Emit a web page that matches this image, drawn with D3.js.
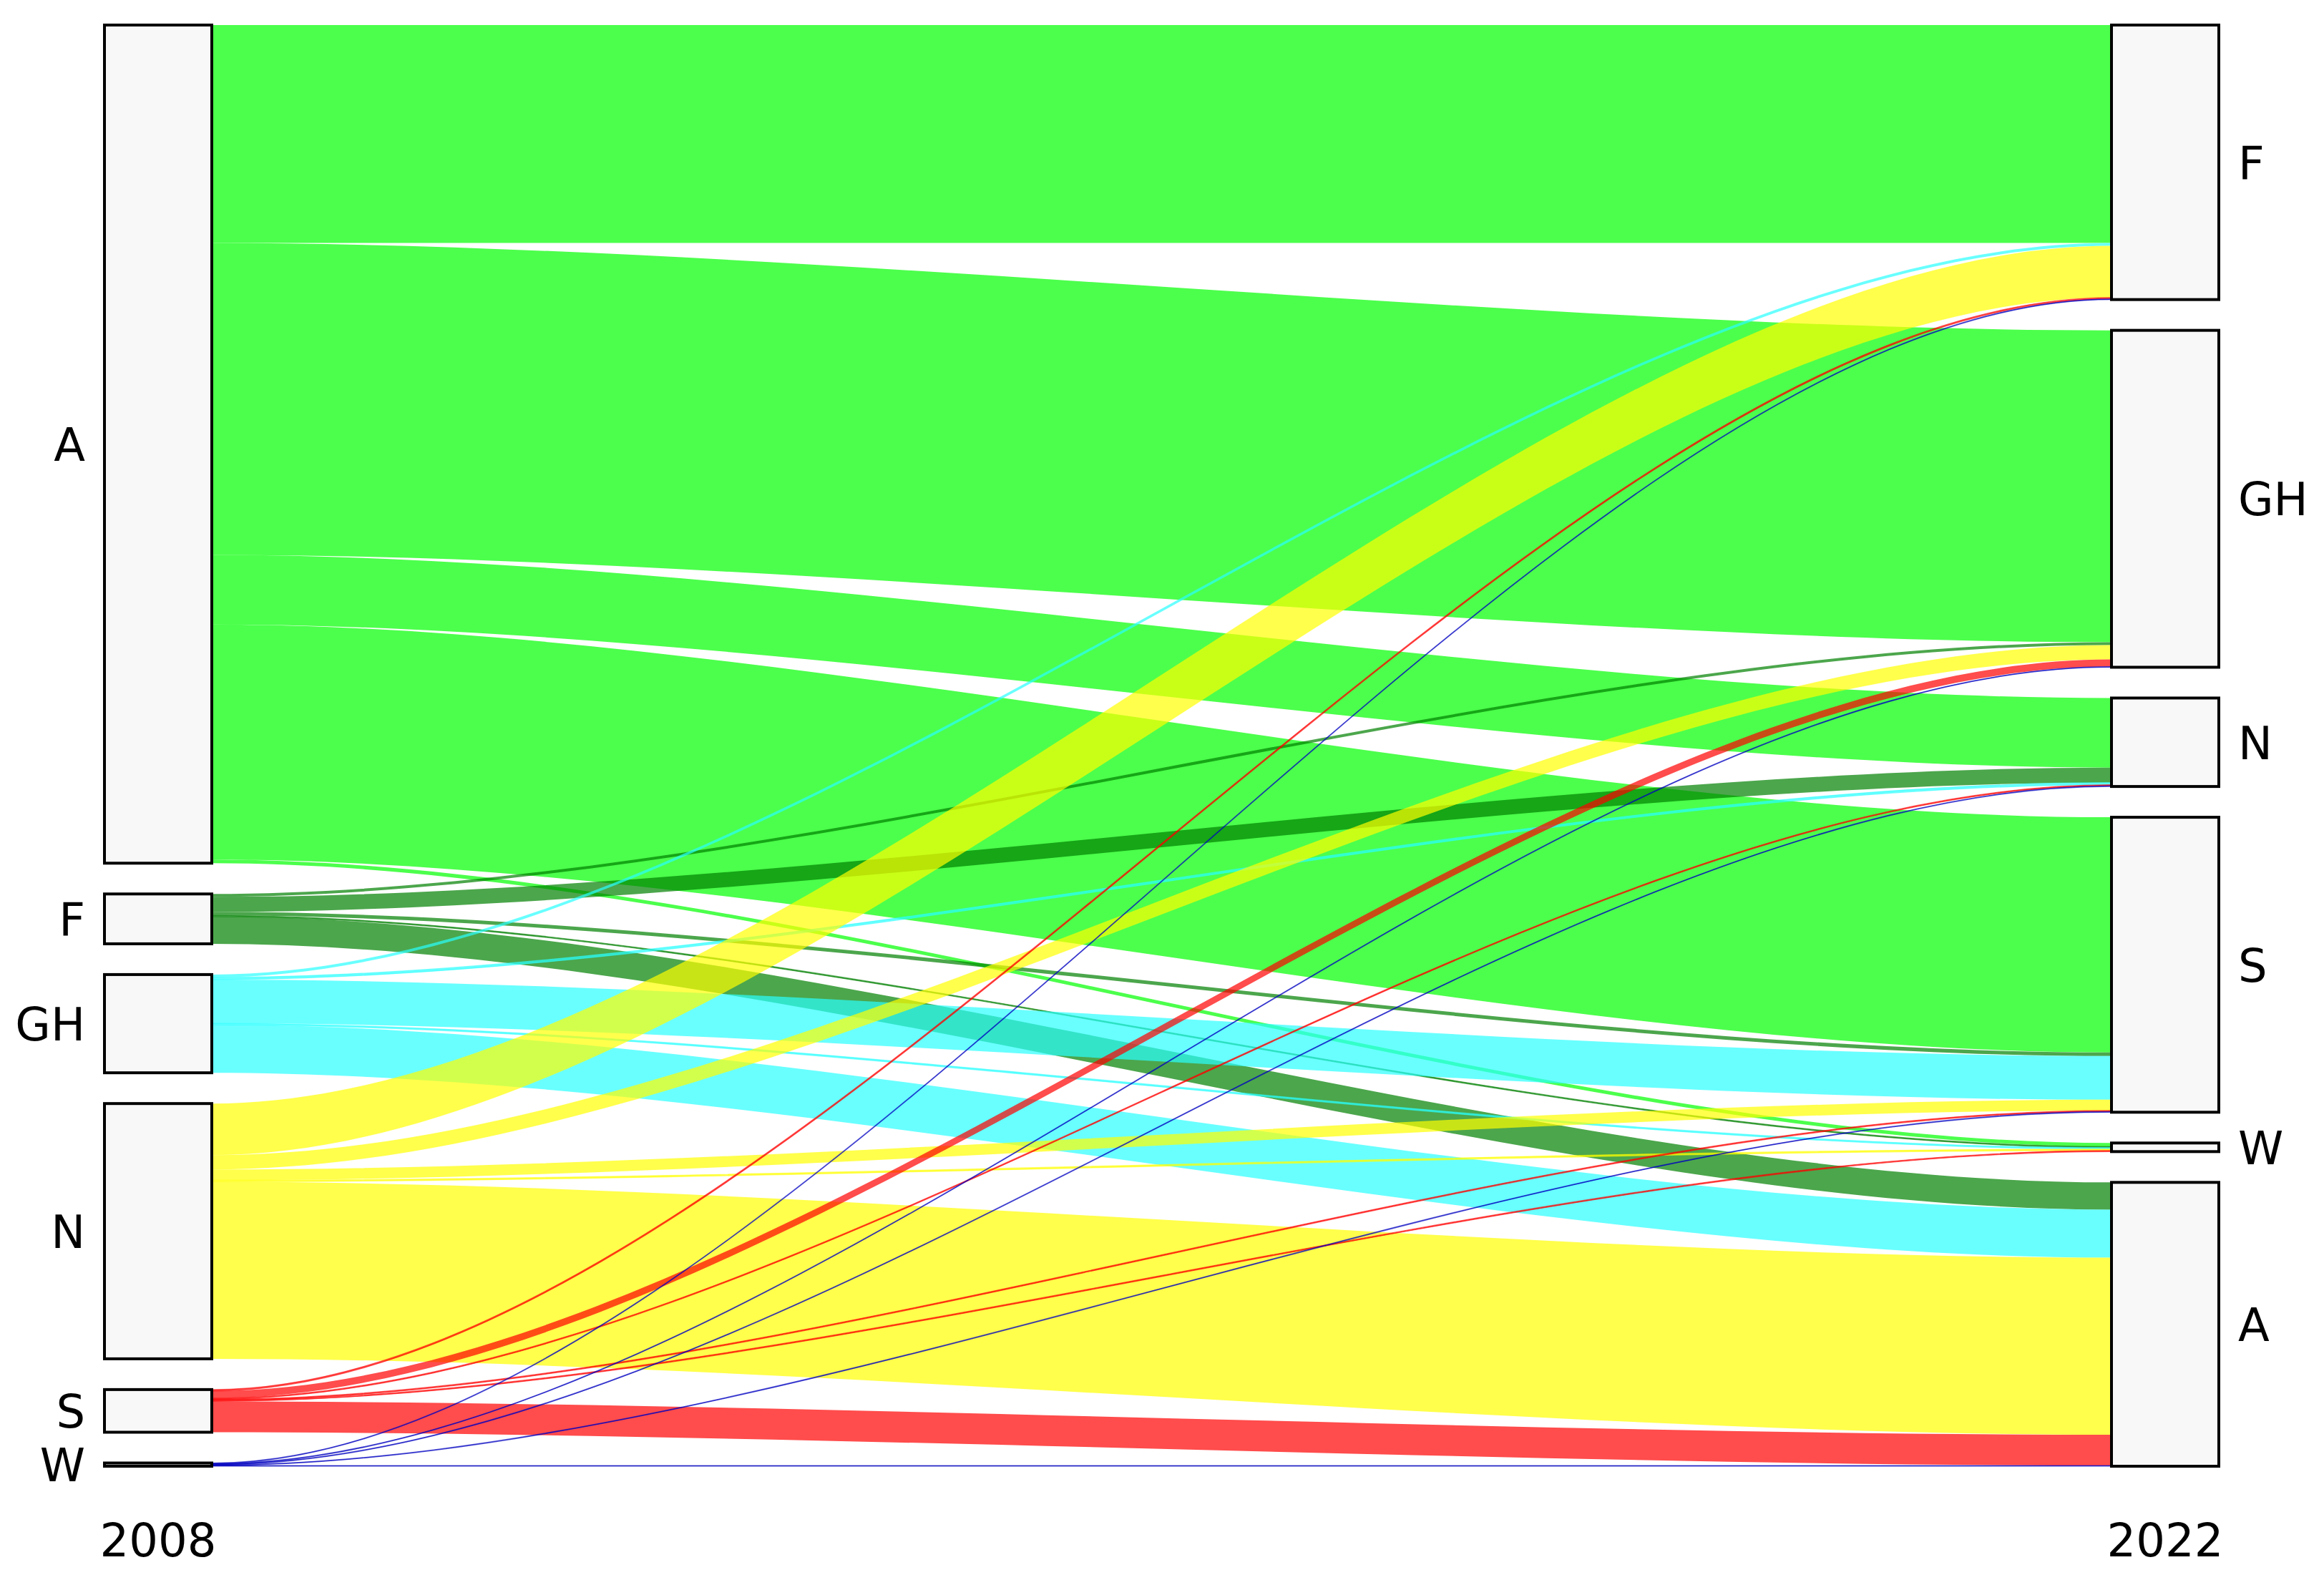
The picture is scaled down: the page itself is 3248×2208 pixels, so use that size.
<!DOCTYPE html>
<html>
<head>
<meta charset="utf-8">
<script src="https://cdn.jsdelivr.net/npm/d3@7"></script>
<style>
  body { margin: 0; background: #fff; }
  svg { display: block; }
</style>
</head>
<body>
<svg id="chart" width="3248" height="2208"></svg>
<script>
const years = ['2008', '2022'];
const leftStrata = ['A', 'F', 'GH', 'N', 'S', 'W'];
const rightStrata = ['F', 'GH', 'N', 'S', 'W', 'A'];
// colour of each class, in leftStrata order
const strataColors = ['#00FF00', '#008000', '#2AFFFF', '#FFFF00', '#FF0000', '#0000C0'];

// one entry per flow: class in 2008 -> class in 2022
const flowFrom = [
  'A', 'A', 'A', 'A', 'A',
  'F', 'F', 'F', 'F', 'F',
  'GH', 'GH', 'GH', 'GH', 'GH',
  'N', 'N', 'N', 'N', 'N',
  'S', 'S', 'S', 'S', 'S', 'S',
  'W', 'W', 'W', 'W', 'W'
];
const flowTo = [
  'F', 'GH', 'N', 'S', 'W',
  'GH', 'N', 'S', 'W', 'A',
  'F', 'N', 'S', 'W', 'A',
  'F', 'GH', 'S', 'W', 'A',
  'F', 'GH', 'N', 'S', 'W', 'A',
  'F', 'GH', 'N', 'S', 'A'
];
const flowValue = [
  304, 435, 97, 328, 5,
  4, 21, 5, 1.5, 38,
  4, 3, 61, 2, 67,
  72, 20, 15, 2, 247,
  2, 10, 1.5, 1.5, 1.5, 43,
  0.9, 0.9, 0.9, 0.9, 0.9
];

const svg = d3.select('#chart');
const plotTop = 35;
const plotBottom = 2049;
const gap = 43;
const boxWidth = 150;
const bend = 0.3;
const fontSize = 64;
const fontFamily = '"DejaVu Sans", "Liberation Sans", Arial, sans-serif';

const x = d3.scalePoint().domain(years).range([221, 3026]);

const flows = flowFrom.map((d, i) => ({ from: d, to: flowTo[i], value: flowValue[i] }));
const total = d3.sum(flowValue);
const y = d3.scaleLinear()
  .domain([0, total])
  .range([0, plotBottom - plotTop - gap * (leftStrata.length - 1)]);

// stack the flows of one side inside its strata, ordered by the other side
const layoutSide = (strata, own, other, otherOrder) => {
  let pos = plotTop;
  let boxes = [];
  strata.forEach((name) => {
    let y0 = pos;
    flows.filter(f => f[own] === name)
      .sort((a, b) => otherOrder.indexOf(a[other]) - otherOrder.indexOf(b[other]))
      .forEach((f) => {
        f[own + 'Y'] = [pos, pos + y(f.value)];
        pos += y(f.value);
      });
    boxes.push({ name: name, y0: y0, y1: pos });
    pos += gap;
  });
  return boxes;
};

const leftBoxes = layoutSide(leftStrata, 'from', 'to', rightStrata);
const rightBoxes = layoutSide(rightStrata, 'to', 'from', leftStrata);

const x0 = x(years[0]) + boxWidth / 2;
const x1 = x(years[1]) - boxWidth / 2;

const flowPath = (f) => {
  let dx = (x1 - x0) * bend;
  let [a0, a1] = f.fromY;
  let [b0, b1] = f.toY;
  let p = d3.path();
  p.moveTo(x0, a0);
  p.bezierCurveTo(x0 + dx, a0, x1 - dx, b0, x1, b0);
  p.lineTo(x1, b1);
  p.bezierCurveTo(x1 - dx, b1, x0 + dx, a1, x0, a1);
  p.closePath();
  return p.toString();
};

const color = d3.scaleOrdinal().domain(leftStrata).range(strataColors);

// very thin flows get an outline so they stay visible as lines
const thin = d => y(d.value) < 4;

svg.append('g')
  .attr('class', 'flows')
  .selectAll('path')
  .data(flows)
  .enter()
  .append('path')
  .attr('d', flowPath)
  .attr('fill', d => color(d.from))
  .attr('fill-opacity', 0.7)
  .attr('stroke', d => thin(d) ? color(d.from) : 'none')
  .attr('stroke-width', 1.2)
  .attr('stroke-opacity', 0.6);

const drawAxis = (boxes, year, side) => {
  let g = svg.append('g').attr('class', 'axis-' + year);
  let cx = x(year);
  g.selectAll('rect')
    .data(boxes)
    .enter()
    .append('rect')
    .attr('x', cx - boxWidth / 2)
    .attr('y', d => d.y0)
    .attr('width', boxWidth)
    .attr('height', d => d.y1 - d.y0)
    .attr('fill', '#f8f8f8')
    .attr('stroke', '#000')
    .attr('stroke-width', 4);
  g.selectAll('text')
    .data(boxes)
    .enter()
    .append('text')
    .attr('x', side === 'left' ? cx - boxWidth / 2 - 27 : cx + boxWidth / 2 + 27)
    .attr('y', d => (d.y0 + d.y1) / 2 + fontSize * 0.365)
    .attr('text-anchor', side === 'left' ? 'end' : 'start')
    .attr('font-family', fontFamily)
    .attr('font-size', fontSize)
    .attr('fill', '#000')
    .text(d => d.name);
  g.append('text')
    .attr('x', cx)
    .attr('y', 2175)
    .attr('text-anchor', 'middle')
    .attr('font-family', fontFamily)
    .attr('font-size', fontSize)
    .attr('fill', '#000')
    .text(year);
};

drawAxis(leftBoxes, years[0], 'left');
drawAxis(rightBoxes, years[1], 'right');
</script>
</body>
</html>
